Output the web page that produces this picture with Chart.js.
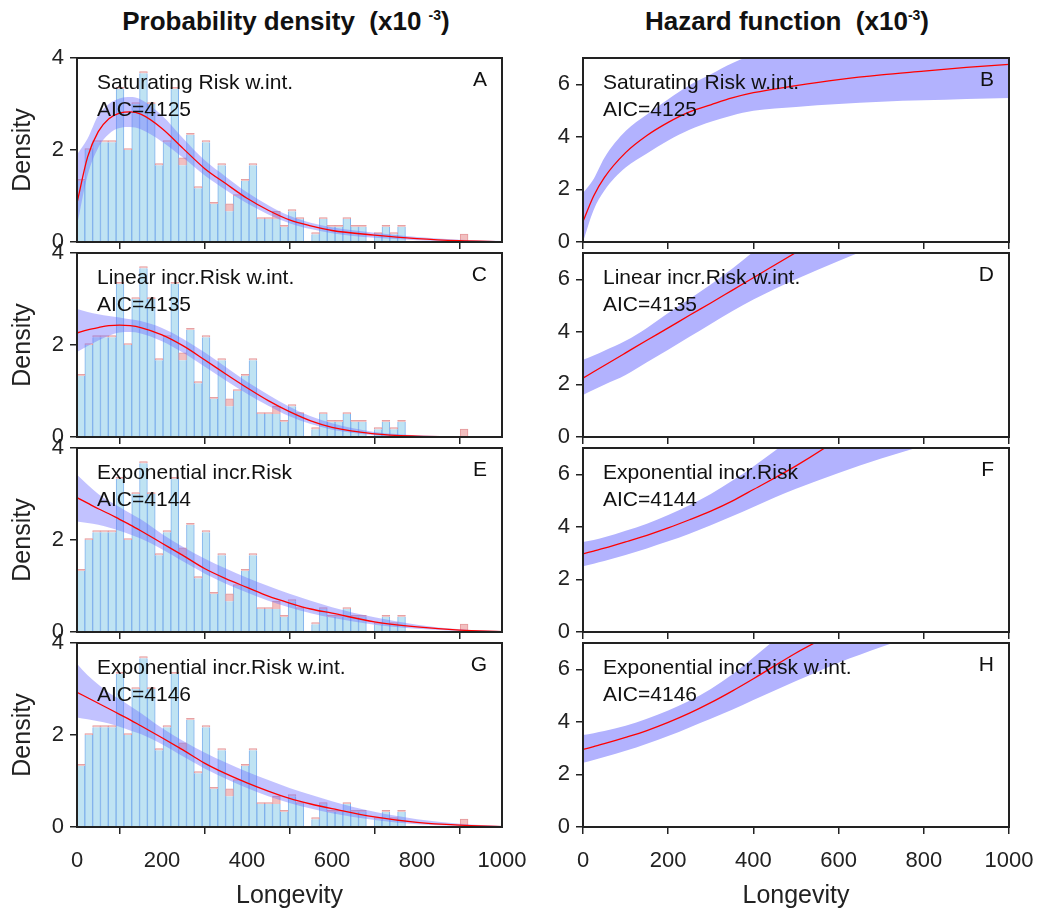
<!DOCTYPE html>
<html>
<head>
<meta charset="utf-8">
<script src="https://cdn.jsdelivr.net/npm/chart.js@4.4.1/dist/chart.umd.min.js"></script>
<style>
  body { margin: 0; background: #fff; width: 1037px; height: 912px; position: relative; overflow: hidden;
         font-family: 'Liberation Sans', Arial, sans-serif; }
  .title { position: absolute; top: 6px; font-weight: bold; font-size: 26px; color: #111; text-align: center; white-space: pre; }
  .title sup { font-size: 14px; }
  .panel { position: absolute; }
</style>
</head>
<body>
<div class="title" style="left:0; width:572px;">Probability density  (x10 <sup>-3</sup>)</div>
<div class="title" style="left:520px; width:534px;">Hazard function  (x10<sup>-3</sup>)</div>

<script>
// Longevity histogram: 50 bins of width 18.4, densities in units of 1e-3
const binWidth = 18.4;
const histBlue = [1.33, 2.00, 2.17, 2.17, 2.17, 3.33, 2.00, 3.00, 3.67, 3.00,
                  1.67, 2.17, 3.33, 1.67, 2.33, 1.17, 2.17, 0.83, 1.67, 0.67,
                  1.00, 1.33, 1.67, 0.50, 0.50, 0.50, 0.33, 0.67, 0.50, 0,
                  0.17, 0.50, 0.33, 0.33, 0.50, 0.33, 0.33, 0, 0.17, 0.33,
                  0.17, 0.33, 0, 0, 0, 0, 0, 0, 0, 0];
const histPink = [1.33, 2.00, 2.17, 2.17, 2.17, 3.33, 2.00, 3.00, 3.67, 3.00,
                  1.67, 2.17, 3.33, 1.83, 2.33, 1.17, 2.17, 0.83, 1.67, 0.83,
                  1.00, 1.33, 1.67, 0.50, 0.50, 0.67, 0.33, 0.67, 0.50, 0,
                  0.17, 0.50, 0.33, 0.33, 0.50, 0.33, 0.33, 0, 0.17, 0.33,
                  0.17, 0.33, 0, 0, 0, 0, 0, 0, 0, 0.17];

// fitted densities (x1e-3) with confidence band
const densX = [0, 25, 50, 75, 100, 125, 150, 200, 250, 300, 350, 400, 450, 500, 550, 600, 700, 800, 900, 1000];
const densA     = [0.85, 1.85, 2.40, 2.68, 2.80, 2.83, 2.78, 2.47, 2.03, 1.60, 1.27, 0.95, 0.69, 0.48, 0.35, 0.25, 0.15, 0.075, 0.03, 0.01];
const densALow  = [0.35, 1.45, 2.05, 2.35, 2.48, 2.50, 2.45, 2.18, 1.83, 1.45, 1.13, 0.84, 0.60, 0.41, 0.28, 0.19, 0.09, 0.04, 0.01, 0];
const densAHigh = [1.90, 2.25, 2.75, 3.00, 3.12, 3.15, 3.10, 2.75, 2.25, 1.78, 1.42, 1.08, 0.80, 0.57, 0.42, 0.32, 0.20, 0.11, 0.05, 0.02];
const densC     = [2.26, 2.33, 2.38, 2.42, 2.43, 2.42, 2.38, 2.22, 1.98, 1.68, 1.37, 1.07, 0.79, 0.55, 0.35, 0.21, 0.07, 0.02, 0.005, 0];
const densCLow  = [1.85, 1.98, 2.10, 2.20, 2.27, 2.28, 2.25, 2.08, 1.83, 1.53, 1.23, 0.94, 0.68, 0.45, 0.28, 0.16, 0.04, 0.01, 0, 0];
const densCHigh = [2.78, 2.72, 2.67, 2.63, 2.60, 2.56, 2.52, 2.37, 2.13, 1.84, 1.52, 1.20, 0.92, 0.66, 0.45, 0.30, 0.11, 0.04, 0.01, 0];
const densE     = [2.92, 2.80, 2.68, 2.57, 2.45, 2.33, 2.20, 1.93, 1.66, 1.38, 1.16, 0.97, 0.78, 0.63, 0.50, 0.41, 0.22, 0.11, 0.04, 0.01];
const densELow  = [2.40, 2.37, 2.33, 2.27, 2.20, 2.12, 2.03, 1.80, 1.53, 1.27, 1.05, 0.86, 0.68, 0.53, 0.41, 0.31, 0.16, 0.07, 0.02, 0];
const densEHigh = [3.42, 3.20, 3.00, 2.85, 2.72, 2.58, 2.45, 2.13, 1.85, 1.60, 1.38, 1.18, 1.00, 0.83, 0.68, 0.54, 0.32, 0.16, 0.06, 0.02];
const densG     = [2.93, 2.81, 2.69, 2.57, 2.45, 2.33, 2.20, 1.94, 1.67, 1.39, 1.16, 0.96, 0.78, 0.62, 0.50, 0.40, 0.22, 0.10, 0.04, 0.01];
const densGLow  = [2.38, 2.34, 2.30, 2.25, 2.18, 2.10, 2.02, 1.80, 1.53, 1.27, 1.05, 0.85, 0.67, 0.52, 0.40, 0.30, 0.15, 0.06, 0.02, 0];
const densGHigh = [3.55, 3.30, 3.10, 2.92, 2.78, 2.63, 2.48, 2.15, 1.87, 1.62, 1.40, 1.20, 1.02, 0.85, 0.70, 0.56, 0.33, 0.17, 0.07, 0.02];

// fitted hazard functions (x1e-3) with confidence band
const hazX = [0, 25, 50, 100, 150, 200, 250, 300, 350, 400, 500, 600, 700, 800, 900, 1000];
const hazB     = [0.78, 1.75, 2.45, 3.40, 4.05, 4.55, 4.95, 5.22, 5.48, 5.68, 5.95, 6.18, 6.36, 6.50, 6.64, 6.76];
const hazBLow  = [0.00, 1.22, 1.95, 2.83, 3.37, 3.86, 4.27, 4.57, 4.81, 4.99, 5.14, 5.25, 5.34, 5.39, 5.44, 5.48];
const hazBHigh = [1.86, 2.40, 3.20, 4.22, 4.85, 5.43, 5.96, 6.38, 6.80, 7.13, 7.60, 7.90, 8.10, 8.25, 8.35, 8.45];
const hazD     = [2.24, 2.48, 2.72, 3.20, 3.68, 4.15, 4.63, 5.10, 5.58, 6.06, 7.02, 7.97, 8.93, 9.88, 10.84, 11.80];
const hazDLow  = [1.60, 1.80, 1.99, 2.36, 2.84, 3.32, 3.81, 4.30, 4.78, 5.23, 6.00, 6.70, 7.35, 8.00, 8.70, 9.40];
const hazDHigh = [2.94, 3.10, 3.28, 3.66, 4.15, 4.72, 5.25, 5.80, 6.40, 7.05, 8.30, 9.50, 10.6, 11.6, 12.6, 13.6];
const hazF     = [2.97, 3.08, 3.19, 3.43, 3.68, 3.96, 4.27, 4.60, 4.98, 5.42, 6.32, 7.35, 8.50, 9.80, 11.3, 13.0];
const hazFLow  = [2.50, 2.60, 2.70, 2.93, 3.18, 3.45, 3.74, 4.06, 4.40, 4.76, 5.45, 6.05, 6.60, 7.10, 7.70, 8.40];
const hazFHigh = [3.42, 3.50, 3.60, 3.85, 4.12, 4.45, 4.82, 5.25, 5.75, 6.30, 7.50, 8.80, 10.2, 11.7, 13.3, 15.0];
const hazH     = [2.95, 3.06, 3.17, 3.41, 3.67, 3.98, 4.33, 4.73, 5.17, 5.64, 6.62, 7.50, 8.50, 9.80, 11.3, 13.0];
const hazHLow  = [2.44, 2.55, 2.66, 2.90, 3.17, 3.46, 3.79, 4.12, 4.46, 4.83, 5.55, 6.25, 6.85, 7.40, 8.10, 8.80];
const hazHHigh = [3.50, 3.57, 3.65, 3.85, 4.12, 4.43, 4.80, 5.25, 5.80, 6.45, 7.80, 9.20, 10.6, 12.0, 13.5, 15.0];

const modelNames = ['Saturating Risk w.int.', 'Linear incr.Risk w.int.', 'Exponential incr.Risk', 'Exponential incr.Risk w.int.'];
const aicValues = [4125, 4135, 4144, 4146];
const densLetters = ['A', 'C', 'E', 'G'];
const hazLetters = ['B', 'D', 'F', 'H'];

const densFits = [[densA, densALow, densAHigh], [densC, densCLow, densCHigh],
                  [densE, densELow, densEHigh], [densG, densGLow, densGHigh]];
const hazFits = [[hazB, hazBLow, hazBHigh], [hazD, hazDLow, hazDHigh],
                 [hazF, hazFLow, hazFHigh], [hazH, hazHLow, hazHHigh]];

const FONT = "'Liberation Sans', Arial, sans-serif";
const rowTops = [58, 253, 448, 643];
const plotHeight = 184;
const padTop = 14;

// frame around the plot area plus the model name, AIC and panel letter
const panelText = {
    id: 'panelText',
    afterDraw(chart, args, opts) {
        const { ctx, chartArea: a } = chart;
        ctx.save();
        ctx.strokeStyle = '#222';
        ctx.lineWidth = 2;
        ctx.strokeRect(a.left, a.top, a.right - a.left, a.bottom - a.top);
        ctx.fillStyle = '#111';
        ctx.font = '21px ' + FONT;
        ctx.textBaseline = 'middle';
        ctx.textAlign = 'left';
        ctx.fillText(opts.model, a.left + 20, a.top + 25);
        ctx.fillText('AIC=' + opts.aic, a.left + 20, a.top + 52);
        ctx.textAlign = 'right';
        ctx.fillText(opts.letter, a.right - 15, a.top + 22);
        ctx.restore();
    }
};

function toPoints(xs, ys) {
    return xs.map((x, i) => ({ x: x, y: ys[i] }));
}

function xScale(last) {
    return {
        type: 'linear', min: 0, max: 1000, offset: false,
        ticks: { display: last, stepSize: 200, color: '#222', padding: 14, font: { family: FONT, size: 22 },
                 callback: (v) => String(v) },
        grid: { drawOnChartArea: false, drawTicks: true, tickLength: 7, color: '#222', lineWidth: 1.5 },
        border: { display: true, color: '#222', width: 2 },
        title: { display: last, text: 'Longevity', color: '#222', font: { family: FONT, size: 25 }, padding: { top: 0, bottom: 0 } },
        afterFit(scale) {
            scale.height = last ? 84 : 10;
            scale.paddingLeft = 0;
            scale.paddingRight = 0;
        }
    };
}

function yScale(max, width, title) {
    return {
        type: 'linear', min: 0, max: max,
        ticks: { stepSize: 2, includeBounds: false, color: '#222', padding: 6, font: { family: FONT, size: 22 } },
        grid: { drawOnChartArea: false, drawTicks: true, tickLength: 7, color: '#222', lineWidth: 1.5 },
        border: { display: true, color: '#222', width: 2 },
        title: { display: !!title, text: title || '', color: '#222', font: { family: FONT, size: 25 }, padding: { top: 8 } },
        afterFit(scale) {
            scale.width = width;
            scale.paddingTop = 0;
            scale.paddingBottom = 0;
        }
    };
}

function bandSets(xs, fit, fillColor, lowIndex) {
    const [mid, low, high] = fit;
    return [
        { type: 'line', data: toPoints(xs, low), borderWidth: 0, pointRadius: 0, fill: false,
          cubicInterpolationMode: 'monotone', order: 1 },
        { type: 'line', data: toPoints(xs, high), borderWidth: 0, pointRadius: 0, fill: lowIndex,
          backgroundColor: fillColor, cubicInterpolationMode: 'monotone', order: 1 },
        { type: 'line', data: toPoints(xs, mid), borderColor: '#ff0000', borderWidth: 1.3, pointRadius: 0,
          fill: false, cubicInterpolationMode: 'monotone', order: 0 }
    ];
}

function makePanel(left, width, row, config) {
    const last = row === 3;
    const div = document.createElement('div');
    div.className = 'panel';
    div.style.left = left + 'px';
    div.style.top = (rowTops[row] - padTop) + 'px';
    div.style.width = width + 'px';
    div.style.height = (padTop + plotHeight + (last ? 84 : 10)) + 'px';
    const canvas = document.createElement('canvas');
    div.appendChild(canvas);
    document.body.appendChild(div);
    return new Chart(canvas, config);
}

const binCenters = histBlue.map((v, i) => binWidth * (i + 0.5));

for (let row = 0; row < 4; row++) {
    const last = row === 3;

    // density column: histogram, confidence band, fitted density
    makePanel(0, 545, row, {
        type: 'bar',
        data: {
            datasets: [
                {
                    type: 'bar', data: toPoints(binCenters, histBlue), grouped: false, order: 3,
                    backgroundColor: '#bfe3f3', borderColor: '#80b2ec',
                    borderWidth: { left: 1, right: 1, top: 0, bottom: 0 },
                    barPercentage: 1, categoryPercentage: 1
                },
                {
                    type: 'bar', grouped: false, order: 2,
                    data: binCenters.map((x, i) => ({ x: x, y: histPink[i] > 0 ? [histBlue[i], histPink[i]] : null })),
                    backgroundColor: '#f2bfc0', borderColor: '#e4999b', borderWidth: 1,
                    minBarLength: 1.5, barPercentage: 1, categoryPercentage: 1
                },
                ...bandSets(densX, densFits[row], 'rgba(110, 110, 255, 0.42)', 2)
            ]
        },
        options: {
            responsive: true, maintainAspectRatio: false, animation: false, events: [],
            layout: { padding: { top: padTop, right: 43, left: 0, bottom: 0 } },
            scales: { x: xScale(last), y: yScale(4, 77, 'Density') },
            plugins: {
                legend: { display: false }, tooltip: { enabled: false },
                panelText: { model: modelNames[row], aic: aicValues[row], letter: densLetters[row] }
            }
        },
        plugins: [panelText]
    });

    // hazard column: confidence band and fitted hazard
    makePanel(520, 517, row, {
        type: 'line',
        data: { datasets: bandSets(hazX, hazFits[row], '#b2b2fe', 0) },
        options: {
            responsive: true, maintainAspectRatio: false, animation: false, events: [],
            layout: { padding: { top: padTop, right: 28, left: 0, bottom: 0 } },
            scales: { x: xScale(last), y: yScale(7, 63, '') },
            plugins: {
                legend: { display: false }, tooltip: { enabled: false },
                panelText: { model: modelNames[row], aic: aicValues[row], letter: hazLetters[row] }
            }
        },
        plugins: [panelText]
    });
}
</script>
</body>
</html>
